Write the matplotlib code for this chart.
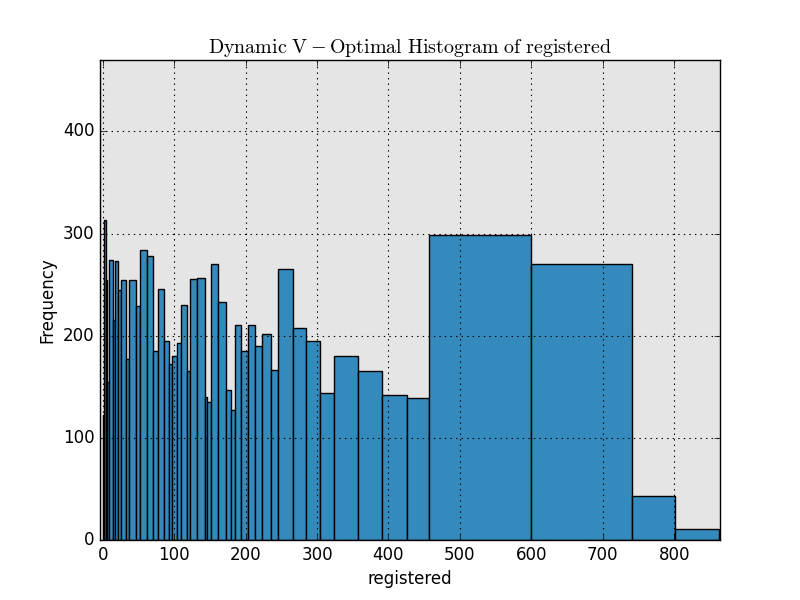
import numpy as np
import matplotlib
matplotlib.use("Agg")
import matplotlib.pyplot as plt

plt.style.use("classic")
plt.rcParams["mathtext.fontset"] = "cm"

# bin edges of the dynamic v-optimal histogram
edges = [0, 1.5, 4.2, 6.4, 8.8, 14.4, 16.5, 21.9, 25.6, 32.1, 36.8, 46.1,
         52.7, 61.5, 69.9, 77.9, 85.8, 92.3, 97.5, 104, 110, 117.5, 122.2,
         132.4, 143, 146.5, 152, 162, 172.3, 179, 184.5, 193.4, 202.8, 213,
         223.5, 235, 246, 266.7, 285, 304.7, 324, 357.7, 391.5, 425.4,
         457.2, 600, 741.5, 800.5, 862]
counts = [122, 313, 255, 155, 274.5, 215, 273.5, 245, 255, 177.5, 255, 229,
          284, 278, 185, 246, 195, 172, 180, 193, 230, 165, 256, 256.5,
          140, 135, 270, 233, 147, 127.5, 211, 185, 211, 190, 202, 166,
          265, 208, 195, 144, 180, 165, 142, 139, 299, 270, 43, 11]
xticks = [0, 100, 200, 300, 400, 500, 600, 700, 800]
yticks = [0, 100, 200, 300, 400]

edges = np.array(edges)
widths = np.diff(edges)

fig, ax = plt.subplots(figsize=(8, 6), dpi=100)
fig.patch.set_facecolor("white")
ax.set_facecolor("#E5E5E5")

ax.bar(edges[:-1], counts, width=widths, align="edge",
       color="#348ABD", edgecolor="black", linewidth=1, zorder=1)

ax.set_xlim(-3.8, 864)
ax.set_ylim(0, 470)
ax.set_xticks(xticks)
ax.set_yticks(yticks)
# grid sits on top of the bars, like in the original
ax.set_axisbelow(False)
ax.grid(True, color="black", linestyle=":", linewidth=0.8)

ax.set_title(r"$\mathrm{Dynamic\ V-Optimal\ Histogram\ of\ registered}$")
ax.set_xlabel("registered")
ax.set_ylabel("Frequency")

fig.savefig("out.png", dpi=100, facecolor="white")
